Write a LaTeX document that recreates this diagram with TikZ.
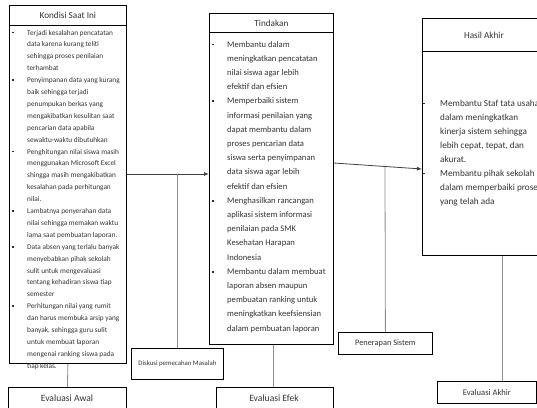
\documentclass[tikz,border=0pt]{standalone}
\usepackage{fontspec}
\setmainfont{Carlito}
\usetikzlibrary{arrows.meta,calc}
\newcommand{\bu}{\raisebox{1.6pt}{\rule{1.8pt}{1.8pt}}}
\newlength{\bw}
\newcommand{\bl}[1]{\hbox{\makebox[\bw][l]{\bu}#1}}
\newcommand{\cl}[1]{\hbox{\hspace{\bw}#1}}
\definecolor{txt}{HTML}{333333}
\definecolor{conn}{HTML}{8C8C8C}
\definecolor{darkconn}{HTML}{404040}
\begin{document}
\begin{tikzpicture}[x=1pt,y=-1pt,
  box/.style={draw=black, line width=0.8pt, inner sep=0pt, anchor=north west, text=txt},
  ttl/.style={font=\fontsize{9.2}{10}\selectfont},
  lst/.style={anchor=base west, inner sep=0pt, text=txt},
  gline/.style={draw=conn, line width=0.8pt},
  arr/.style={draw=darkconn, line width=0.8pt, -{Latex[length=5pt,width=4pt]}}]
\useasboundingbox (0,0) rectangle (537,407);
\clip (0,0) rectangle (537,407);
% Kondisi Saat Ini
\node[box, ttl, minimum width=117, minimum height=20] (k1h) at (9,5) {Kondisi Saat Ini};
\node[box, minimum width=117, minimum height=338] (k1b) at (9,25) {};
\node[lst, font=\fontsize{7.3}{11.9}\selectfont] (k1t) at (12,35) {\setlength{\bw}{15pt}\vtop{
\bl{Terjadi kesalahan pencatatan}
\cl{data karena kurang teliti}
\cl{sehingga proses penilaian}
\cl{terhambat}
\bl{Penyimpanan data yang kurang}
\cl{baik sehingga terjadi}
\cl{penumpukan berkas yang}
\cl{mengakibatkan kesulitan saat}
\cl{pencarian data apabila}
\cl{sewaktu-waktu dibutuhkan}
\bl{Penghitungan nilai siswa masih}
\cl{menggunakan Microsoft Excel}
\cl{shingga masih mengakibatkan}
\cl{kesalahan pada perhitungan}
\cl{nilai.}
\bl{Lambatnya penyerahan data}
\cl{nilai sehingga memakan waktu}
\cl{lama saat pembuatan laporan.}
\bl{Data absen yang terlalu banyak}
\cl{menyebabkan pihak sekolah}
\cl{sulit untuk mengevaluasi}
\cl{tentang kehadiran siswa tiap}
\cl{semester}
\bl{Perhitungan nilai yang rumit}
\cl{dan harus membuka arsip yang}
\cl{banyak, sehingga guru sulit}
\cl{untuk membuat laporan}
\cl{mengenai ranking siswa pada}
\cl{tiap kelas.}}};
% Tindakan
\node[box, ttl, minimum width=124, minimum height=19] (th) at (209,13) {Tindakan};
\node[box, minimum width=124, minimum height=312] (tb) at (209,32) {};
\node[lst, font=\fontsize{8.6}{14.2}\selectfont] (tt) at (212,47) {\setlength{\bw}{15pt}\vtop{
\bl{Membantu dalam}
\cl{meningkatkan pencatatan}
\cl{nilai siswa agar lebih}
\cl{efektif dan efsien}
\bl{Memperbaiki sistem}
\cl{informasi penilaian yang}
\cl{dapat membantu dalam}
\cl{proses pencarian data}
\cl{siswa serta penyimpanan}
\cl{data siswa agar lebih}
\cl{efektif dan efsien}
\bl{Menghasilkan rancangan}
\cl{aplikasi sistem informasi}
\cl{penilaian pada SMK}
\cl{Kesehatan Harapan}
\cl{Indonesia}
\bl{Membantu dalam membuat}
\cl{laporan absen maupun}
\cl{pembuatan ranking untuk}
\cl{meningkatkan keefsiensian}
\cl{dalam pembuatan laporan}}};
% Hasil Akhir
\node[box, ttl, minimum width=123, minimum height=33] (hh) at (422,18) {Hasil Akhir};
\node[box, minimum width=123, minimum height=204] (hb) at (422,51) {};
\node[lst, font=\fontsize{9.2}{14}\selectfont] (ht) at (423,106) {\setlength{\bw}{17pt}\vtop{
\bl{Membantu Staf tata usaha}
\cl{dalam meningkatkan}
\cl{kinerja sistem sehingga}
\cl{lebih cepat, tepat, dan}
\cl{akurat.}
\bl{Membantu pihak sekolah}
\cl{dalam memperbaiki proses}
\cl{yang telah ada}}};
% Bottom boxes
\node[box, minimum width=118, minimum height=40] (ea) at (8,387) {};
\node[text=txt, font=\fontsize{9.6}{11}\selectfont] (eat) at (67,398) {Evaluasi Awal};
\node[box, minimum width=117, minimum height=40] (ee) at (216,387) {};
\node[text=txt, font=\fontsize{9.6}{11}\selectfont] (eet) at (274,398) {Evaluasi Efek};
\node[box, minimum width=99, minimum height=22, font=\fontsize{8.6}{10}\selectfont] (ek) at (437,381) {Evaluasi Akhir};
\node[box, minimum width=92, minimum height=31, font=\fontsize{6.8}{8}\selectfont] (ds) at (131,348) {Diskusi pemecahan Masalah};
\node[box, minimum width=94, minimum height=22, font=\fontsize{8.3}{10}\selectfont] (pn) at (338,332) {Penerapan Sistem};
% connectors
\coordinate (y1) at (0,174);
\coordinate (c3) at (502,0);
\coordinate (c2) at (273,0);
\draw[gline] (k1b.south) -- (ea.north);
\draw[gline] (tb.south -| c2) -- (ee.north -| c2);
\draw[gline] (hb.south -| c3) -- (ek.north -| c3);
\draw[arr] (k1b.east |- y1) -- (tb.west |- y1);
\draw[gline] (ds.north |- y1) -- (ds.north);
\coordinate (a1) at (333,163);
\coordinate (a2) at (422,169);
\draw[arr] (tb.east |- a1) -- (hb.west |- a2);
\coordinate (j2) at ($(a1)!0.584!(a2)$);
\draw[gline] (j2) -- (pn.north);
\end{tikzpicture}
\end{document}
